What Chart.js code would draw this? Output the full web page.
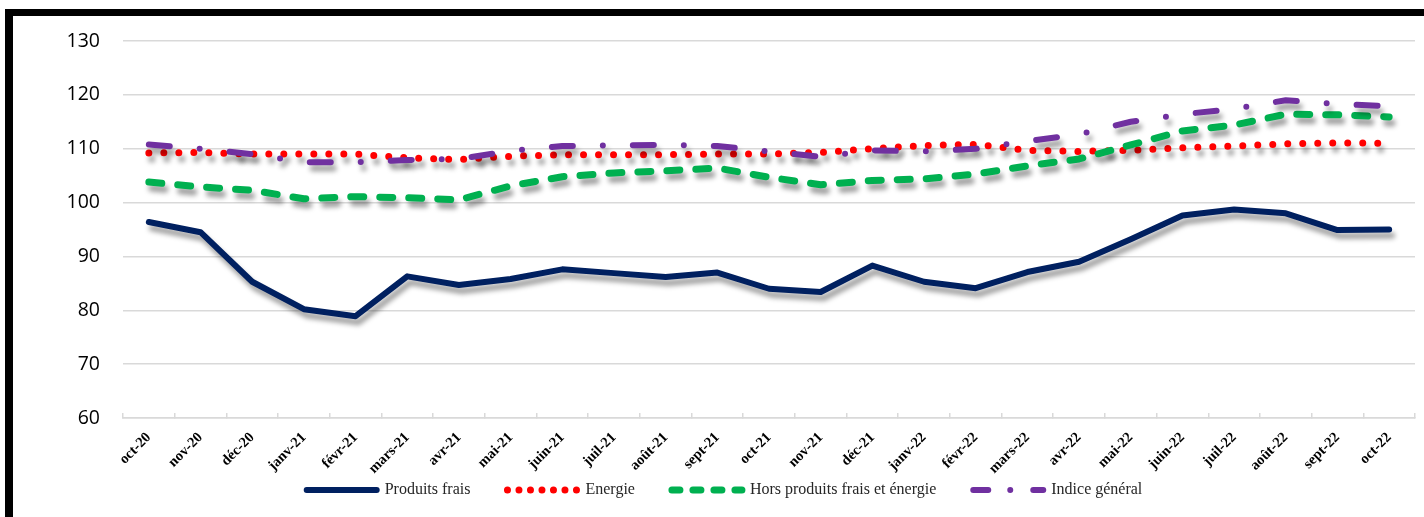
<!DOCTYPE html>
<html>
<head>
<meta charset="utf-8">
<script src="https://cdn.jsdelivr.net/npm/chart.js@4.4.0/dist/chart.umd.min.js"></script>
<style>
  html, body { margin: 0; padding: 0; background: #fff; }
  #frame { position: absolute; left: 5px; top: 9px; width: 1430px; height: 520px;
           border-left: 8px solid #000; border-top: 7px solid #000; }
  #c { position: absolute; left: 0; top: 0; }
</style>
</head>
<body>
<div id="frame"></div>
<canvas id="c" width="1424" height="517"></canvas>
<script>
const categories = ['oct-20','nov-20','déc-20','janv-21','févr-21','mars-21','avr-21','mai-21','juin-21','juil-21','août-21','sept-21','oct-21','nov-21','déc-21','janv-22','févr-22','mars-22','avr-22','mai-22','juin-22','juil-22','août-22','sept-22','oct-22'];

const produitsFrais = [96.4, 94.5, 85.3, 80.2, 78.9, 86.3, 84.7, 85.8, 87.6, 86.9, 86.2, 87.0, 84.0, 83.4, 88.3, 85.3, 84.1, 87.1, 89.0, 93.2, 97.6, 98.7, 98.0, 94.9, 95.0];
const energie = [109.2, 109.3, 109.0, 109.0, 109.0, 108.3, 108.0, 108.6, 108.9, 108.9, 108.9, 109.0, 109.0, 109.3, 110.0, 110.6, 110.8, 109.7, 109.5, 109.7, 110.2, 110.5, 110.9, 111.1, 111.0];
const horsProduitsFraisEnergie = [103.8, 102.9, 102.3, 100.7, 101.1, 100.9, 100.5, 103.1, 104.8, 105.5, 105.9, 106.4, 104.7, 103.3, 104.1, 104.4, 105.3, 106.8, 108.1, 110.7, 113.3, 114.4, 116.4, 116.3, 115.9];
const indiceGeneral = [110.8, 110.0, 109.0, 107.5, 107.5, 107.9, 108.1, 109.6, 110.5, 110.6, 110.7, 110.5, 109.5, 108.5, 109.7, 109.5, 110.0, 111.4, 112.7, 115.0, 116.4, 117.4, 119.0, 118.3, 117.9];

const yTicks = { min: 60, max: 130, step: 10 };
const seriesNames = ['Produits frais', 'Energie', 'Hors produits frais et énergie', 'Indice général'];

const legendDashes = [[], [0, 11.5], [8, 13], [15, 22, 0, 23]];

const shadowPlugin = {
  id: 'lineShadow',
  beforeDatasetsDraw(chart) {
    const ctx = chart.ctx;
    ctx.save();
    ctx.shadowColor = 'rgba(0,0,0,0.38)';
    ctx.shadowBlur = 5;
    ctx.shadowOffsetX = 3;
    ctx.shadowOffsetY = 6;
  },
  afterDatasetsDraw(chart) {
    chart.ctx.restore();
  }
};

// place the legend row just under the rotated month labels
const legendPlacePlugin = {
  id: 'legendPlace',
  afterLayout(chart) {
    const lg = chart.legend;
    if (!lg) return;
    lg.top = 445;
    lg.bottom = chart.height;
    lg.height = lg.bottom - lg.top;
  }
};

const chart = new Chart(document.getElementById('c'), {
  type: 'line',
  data: {
    labels: categories,
    datasets: [
      { label: seriesNames[0], data: produitsFrais, borderColor: '#002060', backgroundColor: '#002060',
        borderWidth: 6, order: 4 },
      { label: seriesNames[1], data: energie, borderColor: '#FF0000', backgroundColor: '#FF0000',
        borderWidth: 7, borderDash: [0, 15], order: 3 },
      { label: seriesNames[2], data: horsProduitsFraisEnergie, borderColor: '#00B050', backgroundColor: '#00B050',
        borderWidth: 7, borderDash: [13, 16], order: 2 },
      { label: seriesNames[3], data: indiceGeneral, borderColor: '#7030A0', backgroundColor: '#7030A0',
        borderWidth: 6, borderDash: [21, 30, 0, 30], order: 1 }
    ]
  },
  options: {
    responsive: false,
    animation: false,
    devicePixelRatio: 1,
    elements: {
      line: { tension: 0, borderCapStyle: 'round', borderJoinStyle: 'round', fill: false },
      point: { radius: 0, hoverRadius: 0 }
    },
    layout: { padding: { top: 41, right: 9, bottom: 0, left: 34 } },
    plugins: {
      tooltip: { enabled: false },
      legend: {
        position: 'bottom',
        maxHeight: 37,
        labels: {
          usePointStyle: true,
          pointStyle: 'line',
          pointStyleWidth: 70,
          padding: 37,
          color: '#262626',
          font: { family: '"Liberation Serif", "Times New Roman", serif', size: 16 },
          generateLabels(chart) {
            return chart.data.datasets.map((ds, i) => ({
              text: ds.label,
              fillStyle: ds.borderColor,
              strokeStyle: ds.borderColor,
              lineWidth: ds.borderWidth,
              lineDash: legendDashes[i],
              lineCap: 'round',
              pointStyle: 'line',
              hidden: false,
              datasetIndex: i,
              fontColor: '#262626'
            }));
          }
        }
      }
    },
    scales: {
      x: {
        offset: true,
        grid: { offset: true, drawOnChartArea: false, drawTicks: true, tickLength: -5, color: '#d9d9d9', lineWidth: 1.5 },
        border: { display: true, color: '#d9d9d9', width: 1.5 },
        ticks: {
          autoSkip: false, maxRotation: 45, minRotation: 45, padding: 16,
          color: '#000',
          font: { family: '"Liberation Serif", "Times New Roman", serif', size: 14.5, weight: 'bold' }
        },
        afterFit(scale) { scale.height = 62; }
      },
      y: {
        min: yTicks.min, max: yTicks.max,
        grid: { drawTicks: false, color: '#d9d9d9', lineWidth: 1.5 },
        border: { display: false },
        ticks: {
          stepSize: yTicks.step, padding: 23, color: '#000',
          font: { family: '"Open Sans", sans-serif', size: 19.5 }
        },
        afterFit(scale) { scale.width = 89; }
      }
    }
  },
  plugins: [shadowPlugin, legendPlacePlugin]
});
</script>
</body>
</html>
